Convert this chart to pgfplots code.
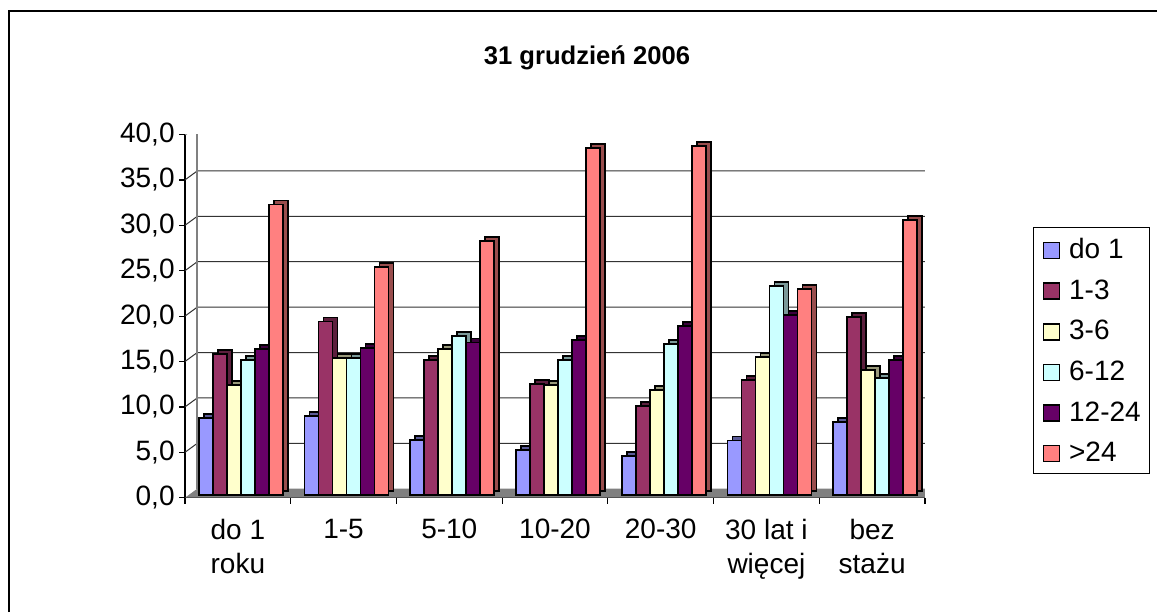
\documentclass[border=0pt]{standalone}
\usepackage{fontspec}
\setmainfont{Liberation Sans}
\usepackage{pgfplots}
\usepackage{pgfplotstable}
\pgfplotsset{compat=1.18}
\definecolor{sA}{HTML}{9999FF}
\definecolor{sB}{HTML}{993366}
\definecolor{sC}{HTML}{FFFFCC}
\definecolor{sD}{HTML}{CCFFFF}
\definecolor{sE}{HTML}{660066}
\definecolor{sF}{HTML}{FF8080}
\definecolor{wallgray}{HTML}{808080}

% share of each group (percent), 31 Dec 2006
\pgfplotstableread{
x a b c d e f
0 8.5 15.5 12.1 14.9 16.1 32.0
1 8.7 19.1 15.1 15.1 16.2 25.1
2 6.1 14.9 16.1 17.5 16.8 28.0
3 5.0 12.2 12.1 14.9 17.1 38.2
4 4.3 9.8 11.6 16.6 18.6 38.4
5 6.0 12.7 15.2 23.0 19.8 22.7
6 8.0 19.6 13.8 12.9 14.9 30.3
}\data

% #1 column, #2 colour, #3 shift of the front face, #4 shift of the depth face
\newcommand{\bars}[4]{%
 \addplot[forget plot,ybar,bar width=7pt,bar shift=#4,yshift=3.35pt,fill=#2!60!black,draw=black,line width=0.9pt] table[x=x,y=#1]{\data};
 \addplot[forget plot,ybar,bar width=7pt,bar shift=#3,yshift=1.35pt,fill=#2,draw=black,line width=0.9pt] table[x=x,y=#1]{\data};}

\begin{document}
\begin{tikzpicture}
\useasboundingbox (0,0) rectangle (578.5pt,306pt);
\draw[line width=1pt] (4.5pt,0pt) -- (4.5pt,300.5pt) -- (578.5pt,300.5pt);
\node[font=\fontsize{12.8}{15}\selectfont\bfseries,anchor=base] at (293.5pt,273.5pt) {31 grudzień 2006};
\begin{axis}[scale only axis,width=370pt,height=181.6pt,
  at={(92.5pt,57.15pt)},anchor=south west,
  xmin=-0.5,xmax=6.5,ymin=0,ymax=40,
  axis x line*=bottom,axis y line*=left,
  axis line style={black,line width=0.6pt},
  tick align=outside,major tick length=3pt,tick style={black,line width=0.6pt},
  ytick={0,5,...,40},
  yticklabel style={font=\fontsize{14}{17}\selectfont,inner sep=0pt,xshift=-2pt,
    /pgf/number format/.cd,fixed,fixed zerofill,precision=1,use comma,assume math mode=true},
  xtick={-0.5,0.5,...,6.5},x tick label as interval,
  xticklabels={{do 1\\roku},1-5,5-10,10-20,20-30,{30 lat i\\więcej},{bez\\stażu}},
  xticklabel style={font=\fontsize{14}{17.3}\selectfont,align=center,inner sep=0pt,anchor=north,yshift=-7.5pt},
  legend image code/.code={\draw[#1] (0pt,-5pt) rectangle (8pt,3pt);},
  legend style={at={(1.146,0.745)},anchor=north west,draw=black,line width=0.5pt,
    font=\fontsize{14}{17}\selectfont,inner xsep=4.5pt,inner ysep=5.5pt,row sep=9.9pt,
    nodes={inner sep=0pt,text height=10pt,text depth=0pt},
    /tikz/every odd column/.append style={column sep=4.5pt}},
  legend cell align=left]
\fill[wallgray] (axis cs:-0.5,0) -- (axis cs:6.5,0) -- ([shift={(6.15pt,4.5pt)}]axis cs:6.5,0) -- ([shift={(6.15pt,4.5pt)}]axis cs:-0.5,0) -- cycle;
\pgfplotsinvokeforeach{5,10,...,35}{
  \draw[black!80,line width=0.5pt] (axis cs:-0.5,#1) -- ([shift={(6.15pt,4.5pt)}]axis cs:-0.5,#1) -- ([shift={(6.15pt,4.5pt)}]axis cs:6.5,#1);}
\draw[wallgray,line width=1pt] (axis cs:-0.5,40) -- ([shift={(6.15pt,4.5pt)}]axis cs:-0.5,40) -- ([shift={(6.15pt,4.5pt)}]axis cs:6.5,40) -- ([shift={(6.15pt,4.5pt)}]axis cs:6.5,0) -- (axis cs:6.5,0);
\draw[wallgray,line width=1pt] ([shift={(6.15pt,4.5pt)}]axis cs:-0.5,0) -- ([shift={(6.15pt,4.5pt)}]axis cs:-0.5,40);
\bars{a}{sA}{-16pt}{-13.5pt}
\bars{b}{sB}{-9pt}{-6.5pt}
\bars{c}{sC}{-2pt}{0.5pt}
\bars{d}{sD}{5pt}{7.5pt}
\bars{e}{sE}{12pt}{14.5pt}
\bars{f}{sF}{19pt}{21.5pt}
\addlegendimage{fill=sA,draw=black,line width=0.8pt}\addlegendentry{do 1}
\addlegendimage{fill=sB,draw=black,line width=0.8pt}\addlegendentry{1-3}
\addlegendimage{fill=sC,draw=black,line width=0.8pt}\addlegendentry{3-6}
\addlegendimage{fill=sD,draw=black,line width=0.8pt}\addlegendentry{6-12}
\addlegendimage{fill=sE,draw=black,line width=0.8pt}\addlegendentry{12-24}
\addlegendimage{fill=sF,draw=black,line width=0.8pt}\addlegendentry{>24}
\end{axis}
\end{tikzpicture}
\end{document}
